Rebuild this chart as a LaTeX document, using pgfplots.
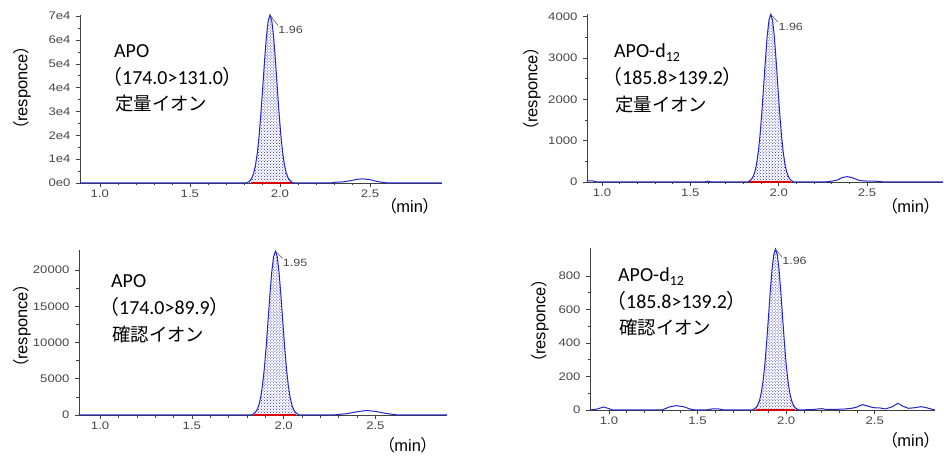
\documentclass[border=0pt]{standalone}
\usepackage{pgfplots}
\pgfplotsset{compat=1.18}
\usepackage{pgfplotstable}
\usepackage{fontspec}
\usetikzlibrary{patterns}
\setmainfont{Liberation Sans}
\newfontfamily\lat{Carlito}
\newfontfamily\jp{Noto Sans CJK JP}
\newfontfamily\jpp[RawFeature=+palt]{Noto Sans CJK JP}
\newfontfamily\tickf[FakeStretch=1.2]{Liberation Sans}
\definecolor{trace}{RGB}{35,35,205}
\definecolor{tickc}{RGB}{70,70,70}

% ---------- data ----------
\pgfplotstableread{
x y
0.89 0
1.60 0
1.815 0
1.825 480
1.835 1060
1.845 2210
1.855 4270
1.865 7680
1.875 12900
1.885 20200
1.895 29700
1.905 40500
1.915 51600
1.925 61400
1.935 68100
1.945 70500
1.955 68100
1.965 61400
1.975 51600
1.985 40500
1.995 29700
2.005 20200
2.015 12900
2.025 7680
2.035 4270
2.045 2210
2.055 1060
2.065 480
2.075 0
2.28 0
2.31 350
2.35 450
2.39 950
2.43 1550
2.46 1750
2.50 1400
2.54 650
2.58 150
2.61 0
2.90 0
}\dataA

\pgfplotstableread{
x y
0.915 25
0.95 25
0.97 0
1.58 0
1.60 20
1.62 0
1.825 0
1.835 28
1.845 61
1.855 127
1.865 245
1.875 441
1.885 741
1.895 1162
1.905 1705
1.915 2329
1.925 2965
1.935 3528
1.945 3912
1.955 4050
1.965 3912
1.975 3528
1.985 2965
1.995 2329
2.005 1705
2.015 1162
2.025 741
2.035 441
2.045 245
2.055 127
2.065 61
2.075 28
2.085 0
2.26 0
2.30 20
2.33 45
2.36 110
2.39 130
2.42 100
2.45 45
2.48 25
2.55 20
2.60 0
2.93 0
}\dataB

\pgfplotstableread{
x y
0.885 0
1.60 0
1.825 0
1.835 154
1.845 341
1.855 707
1.865 1370
1.875 2460
1.885 4140
1.895 6490
1.905 9510
1.915 13000
1.925 16540
1.935 19680
1.945 21830
1.955 22600
1.965 21830
1.975 19680
1.985 16540
1.995 13000
2.005 9510
2.015 6490
2.025 4140
2.035 2460
2.045 1370
2.055 707
2.065 341
2.075 154
2.085 0
2.27 0
2.30 80
2.35 200
2.40 450
2.45 620
2.50 500
2.55 250
2.60 60
2.63 0
2.89 0
}\dataC

\pgfplotstableread{
x y
0.893 0
0.93 5
0.97 18
1.00 8
1.02 0
1.30 0
1.34 18
1.38 26
1.42 20
1.46 5
1.49 0
1.55 0
1.58 6
1.62 6
1.65 0
1.81 0
1.82 6.5
1.83 14.5
1.84 30
1.85 58
1.86 105
1.87 176
1.88 276
1.89 404
1.90 552
1.91 703
1.92 836
1.93 927
1.94 960
1.95 927
1.96 836
1.97 703
1.98 552
1.99 404
2.00 276
2.01 176
2.02 105
2.03 58
2.04 30
2.05 14.5
2.06 6.5
2.07 0
2.15 3
2.20 8
2.23 3
2.32 5
2.37 10
2.40 18
2.43 32
2.46 24
2.49 14
2.53 12
2.56 6
2.60 20
2.63 40
2.66 22
2.69 10
2.73 14
2.76 20
2.79 14
2.84 0
}\dataD

\pgfplotsset{
  chrom/.style={
    scale only axis,
    anchor=south west,
    axis lines*=left,
    axis line style={black!75, line width=0.7bp},
    tick style={black!75, line width=0.6bp},
    major tick length=4bp,
    minor tick length=2.5bp,
    tick align=outside,
    xtick={1.0,1.5,2.0,2.5},
    xticklabels={1.0,1.5,2.0,2.5},
    minor x tick num=4,
    minor y tick num=1,
    scaled y ticks=false,
    scaled x ticks=false,
    ymin=0,
    clip=false,
    ticklabel style={font=\tickf\fontsize{11}{12}\selectfont, text=tickc},
    xticklabel style={yshift=1bp},
    yticklabel style={xshift=-2bp},
  },
  trace/.style={color=trace, line width=1bp},
  fillpk/.style={draw=none, pattern=crosshatch dots, pattern color=trace},
}

\newcommand{\pklabel}[1]{\tickf\fontsize{10.5}{12}\selectfont\color{tickc}#1}

\begin{document}
\begin{tikzpicture}

% ---------- panel 1 ----------
\begin{axis}[chrom, at={(80bp,273bp)}, width=362bp, height=168bp,
  xmin=0.89, xmax=2.9, ymax=70500,
  ytick={0,10000,20000,30000,40000,50000,60000,70000},
  yticklabels={0e0,1e4,2e4,3e4,4e4,5e4,6e4,7e4}]
  \addplot[fillpk] table[restrict x to domain=1.81:2.08] {\dataA} \closedcycle;
  \addplot[red!85!black, line width=1.2bp] coordinates {(1.84,0) (2.06,0)};
  \addplot[trace] table {\dataA};
  \draw[black!70, line width=0.5bp] (axis cs:1.945,70500) -- (axis cs:1.99,66000);
  \node[anchor=west, inner sep=0pt] at (axis cs:1.99,64300) {\pklabel{1.96}};
\end{axis}

% ---------- panel 2 ----------
\begin{axis}[chrom, at={(587bp,274bp)}, width=356bp, height=168bp,
  xmin=0.915, xmax=2.93, ymax=4060,
  ytick={0,1000,2000,3000,4000},
  yticklabels={0,1000,2000,3000,4000}]
  \addplot[fillpk] table[restrict x to domain=1.82:2.09] {\dataB} \closedcycle;
  \addplot[red!85!black, line width=1.2bp] coordinates {(1.83,0) (2.07,0)};
  \addplot[trace] table {\dataB};
  \draw[black!70, line width=0.5bp] (axis cs:1.955,4050) -- (axis cs:1.995,3870);
  \node[anchor=west, inner sep=0pt] at (axis cs:1.998,3760) {\pklabel{1.96}};
\end{axis}

% ---------- panel 3 ----------
\begin{axis}[chrom, at={(79bp,41bp)}, width=368bp, height=165bp,
  xmin=0.885, xmax=2.89, ymax=22760,
  ytick={0,5000,10000,15000,20000},
  yticklabels={0,5000,10000,15000,20000}]
  \addplot[fillpk] table[restrict x to domain=1.82:2.09] {\dataC} \closedcycle;
  \addplot[red!85!black, line width=1.2bp] coordinates {(1.84,0) (2.07,0)};
  \addplot[trace] table {\dataC};
  \draw[black!70, line width=0.5bp] (axis cs:1.955,22600) -- (axis cs:1.995,21600);
  \node[anchor=west, inner sep=0pt] at (axis cs:1.995,20970) {\pklabel{1.95}};
\end{axis}

% ---------- panel 4 ----------
\begin{axis}[chrom, at={(590bp,46bp)}, width=345bp, height=162bp,
  xmin=0.893, xmax=2.84, ymax=967,
  ytick={0,200,400,600,800},
  yticklabels={0,200,400,600,800}]
  \addplot[fillpk] table[restrict x to domain=1.80:2.08] {\dataD} \closedcycle;
  \addplot[red!85!black, line width=1.2bp] coordinates {(1.83,0) (2.05,0)};
  \addplot[trace] table {\dataD};
  \draw[black!70, line width=0.5bp] (axis cs:1.94,960) -- (axis cs:1.975,915);
  \node[anchor=west, inner sep=0pt] at (axis cs:1.977,890) {\pklabel{1.96}};
\end{axis}

% ---------- axis titles ----------
\newcommand{\resp}{\fontsize{16.5}{18}\selectfont{\jpp（}responce{\jpp）}}
\newcommand{\minl}{\fontsize{16.5}{18}\selectfont{\jpp（}min{\jpp）}}
\node[rotate=90, inner sep=0pt] at (22bp,368bp) {\resp};
\node[rotate=90, inner sep=0pt] at (532bp,367bp) {\resp};
\node[rotate=90, inner sep=0pt] at (22bp,130bp) {\resp};
\node[rotate=90, inner sep=0pt] at (540bp,135bp) {\resp};
\node[anchor=base west, inner sep=0pt] at (388bp,243bp) {\minl};
\node[anchor=base west, inner sep=0pt] at (889bp,243bp) {\minl};
\node[anchor=base west, inner sep=0pt] at (386bp,5bp) {\minl};
\node[anchor=base west, inner sep=0pt] at (889bp,10bp) {\minl};

% ---------- annotations ----------
\newcommand{\ann}[1]{\lat\fontsize{20}{22}\selectfont #1}
\newcommand{\pa}{{\jpp\fontsize{20}{22}\selectfont（}}
\newcommand{\pb}{{\jpp\fontsize{20}{22}\selectfont）}}
\newcommand{\annj}[1]{\jp\fontsize{18.5}{20}\selectfont #1}
% panel 1
\node[anchor=base west, inner sep=0pt] at (114bp,398bp) {\ann{APO}};
\node[anchor=base west, inner sep=0pt] at (112bp,371bp) {\ann{\pa174.0>131.0\pb}};
\node[anchor=base west, inner sep=0pt] at (115bp,345bp) {\annj{定量イオン}};
% panel 2
\node[anchor=base west, inner sep=0pt] at (614bp,398bp) {\ann{APO-d\textsubscript{12}}};
\node[anchor=base west, inner sep=0pt] at (612bp,371bp) {\ann{\pa185.8>139.2\pb}};
\node[anchor=base west, inner sep=0pt] at (615bp,344bp) {\annj{定量イオン}};
% panel 3
\node[anchor=base west, inner sep=0pt] at (111bp,168bp) {\ann{APO}};
\node[anchor=base west, inner sep=0pt] at (109bp,141bp) {\ann{\pa174.0>89.9\pb}};
\node[anchor=base west, inner sep=0pt] at (112bp,114bp) {\annj{確認イオン}};
% panel 4
\node[anchor=base west, inner sep=0pt] at (618bp,174bp) {\ann{APO-d\textsubscript{12}}};
\node[anchor=base west, inner sep=0pt] at (616bp,147bp) {\ann{\pa185.8>139.2\pb}};
\node[anchor=base west, inner sep=0pt] at (619bp,121bp) {\annj{確認イオン}};

\pgfresetboundingbox
\path (0bp,0bp) rectangle (944bp,456bp);
\end{tikzpicture}
\end{document}
